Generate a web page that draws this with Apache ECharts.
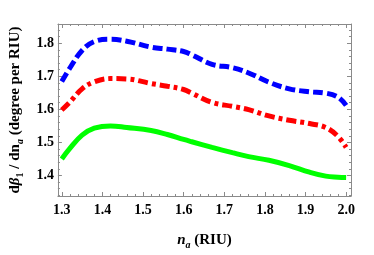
<!DOCTYPE html>
<html><head><meta charset="utf-8">
<script src="https://cdn.jsdelivr.net/npm/echarts@6/dist/echarts.min.js"></script>
<style>html,body{margin:0;padding:0;background:#fff}#c{width:374px;height:255px}</style>
</head><body><div id="c"></div>
<script>
// refractive index n_a (RIU)
const nA = [1.30, 1.32, 1.35, 1.38, 1.42, 1.46, 1.52, 1.56, 1.60, 1.62, 1.67, 1.72, 1.76, 1.81, 1.86, 1.91, 1.95, 1.98, 2.00];
// sensitivity curves (degree per RIU)
const blueDashed = [1.684, 1.725, 1.778, 1.805, 1.812, 1.806, 1.788, 1.782, 1.775, 1.765, 1.736, 1.726, 1.710, 1.682, 1.662, 1.653, 1.649, 1.637, 1.612];
const redDashDot = [1.598, 1.622, 1.662, 1.683, 1.693, 1.692, 1.678, 1.670, 1.660, 1.649, 1.621, 1.609, 1.599, 1.580, 1.567, 1.557, 1.545, 1.518, 1.485];
const greenSolid = [1.450, 1.482, 1.522, 1.543, 1.550, 1.545, 1.536, 1.524, 1.509, 1.502, 1.485, 1.469, 1.457, 1.446, 1.430, 1.410, 1.398, 1.395, 1.394];
// tick labels / tick positions
const xMajor = [1.3, 1.4, 1.5, 1.6, 1.7, 1.8, 1.9, 2.0];
const xMinor = [1.32, 1.34, 1.36, 1.38, 1.42, 1.44, 1.46, 1.48, 1.52, 1.54, 1.56, 1.58, 1.62, 1.64, 1.66, 1.68, 1.72, 1.74, 1.76, 1.78, 1.82, 1.84, 1.86, 1.88, 1.92, 1.94, 1.96, 1.98];
const yMajor = [1.4, 1.5, 1.6, 1.7, 1.8];
const yMinor = [1.34, 1.36, 1.38, 1.42, 1.44, 1.46, 1.48, 1.52, 1.54, 1.56, 1.58, 1.62, 1.64, 1.66, 1.68, 1.72, 1.74, 1.76, 1.78, 1.82, 1.84];

const XMIN = 1.2905, XMAX = 2.012, YMIN = 1.338, YMAX = 1.858;
const FONT = 'Liberation Serif';
const frameColor = '#8a8a8a';

function mkAxis(kind, pos, ticks, len, showLine, labels, extra) {
  const a = {
    type: 'value', position: pos,
    min: kind === 'x' ? XMIN : YMIN, max: kind === 'x' ? XMAX : YMAX,
    splitLine: {show: false},
    axisLine: {show: showLine, onZero: false, lineStyle: {color: frameColor, width: 1}},
    axisTick: {show: true, inside: true, length: len, customValues: ticks, lineStyle: {color: frameColor, width: 1}},
    axisLabel: labels ? {show: true, customValues: labels, fontFamily: FONT, fontWeight: 'bold', fontSize: 14, color: '#000',
      margin: kind === 'x' ? 7 : 4, formatter: v => v.toFixed(1)} : {show: false}
  };
  return Object.assign(a, extra || {});
}

const richBase = {
  b: {fontFamily: FONT, fontWeight: 'bold', fontSize: 15, color: '#000', lineHeight: 20, verticalAlign: 'middle'},
  bi: {fontFamily: FONT, fontWeight: 'bold', fontStyle: 'italic', fontSize: 15, color: '#000', lineHeight: 20, verticalAlign: 'middle'},
  s: {fontFamily: FONT, fontWeight: 'bold', fontSize: 10, color: '#000', lineHeight: 10, verticalAlign: 'bottom'},
  si: {fontFamily: FONT, fontWeight: 'bold', fontStyle: 'italic', fontSize: 10, color: '#000', lineHeight: 10, verticalAlign: 'bottom'}
};

const chart = echarts.init(document.getElementById('c'), null, {renderer: 'canvas'});
chart.setOption({
  animation: false,
  backgroundColor: '#fff',
  grid: {left: 46, right: 23, top: 24, bottom: 43, containLabel: false},
  xAxis: [
    mkAxis('x', 'bottom', xMajor, 4, true, xMajor, {
      name: '{bi|n}{si|a}{b| (RIU)}', nameLocation: 'middle', nameGap: 34,
      nameTextStyle: {rich: richBase}
    }),
    mkAxis('x', 'bottom', xMinor, 2, false, null),
    mkAxis('x', 'top', xMajor, 4, true, null),
    mkAxis('x', 'top', xMinor, 2, false, null)
  ],
  yAxis: [
    mkAxis('y', 'left', yMajor, 4, true, yMajor, {
      name: '{b|d}{bi|β}{s|1}{b| / dn}{si|a}{b| (degree per RIU)}', nameLocation: 'middle', nameGap: 29,
      nameTextStyle: {rich: richBase}
    }),
    mkAxis('y', 'left', yMinor, 2, false, null),
    mkAxis('y', 'right', yMajor, 4, true, null),
    mkAxis('y', 'right', yMinor, 2, false, null)
  ],
  series: [
    {type: 'line', xAxisIndex: 0, yAxisIndex: 0, smooth: 0.4, showSymbol: false,
     data: nA.map((x, i) => [x, blueDashed[i]]),
     lineStyle: {color: '#0000ff', width: 5, type: [10, 4], cap: 'butt'}},
    {type: 'line', xAxisIndex: 0, yAxisIndex: 0, smooth: 0.4, showSymbol: false,
     data: nA.map((x, i) => [x, redDashDot[i]]),
     lineStyle: {color: '#ff0000', width: 5, type: [10, 4, 4, 4], cap: 'butt'}},
    {type: 'line', xAxisIndex: 0, yAxisIndex: 0, smooth: 0.4, showSymbol: false,
     data: nA.map((x, i) => [x, greenSolid[i]]),
     lineStyle: {color: '#00ff00', width: 5}}
  ]
});
</script>
</body></html>
